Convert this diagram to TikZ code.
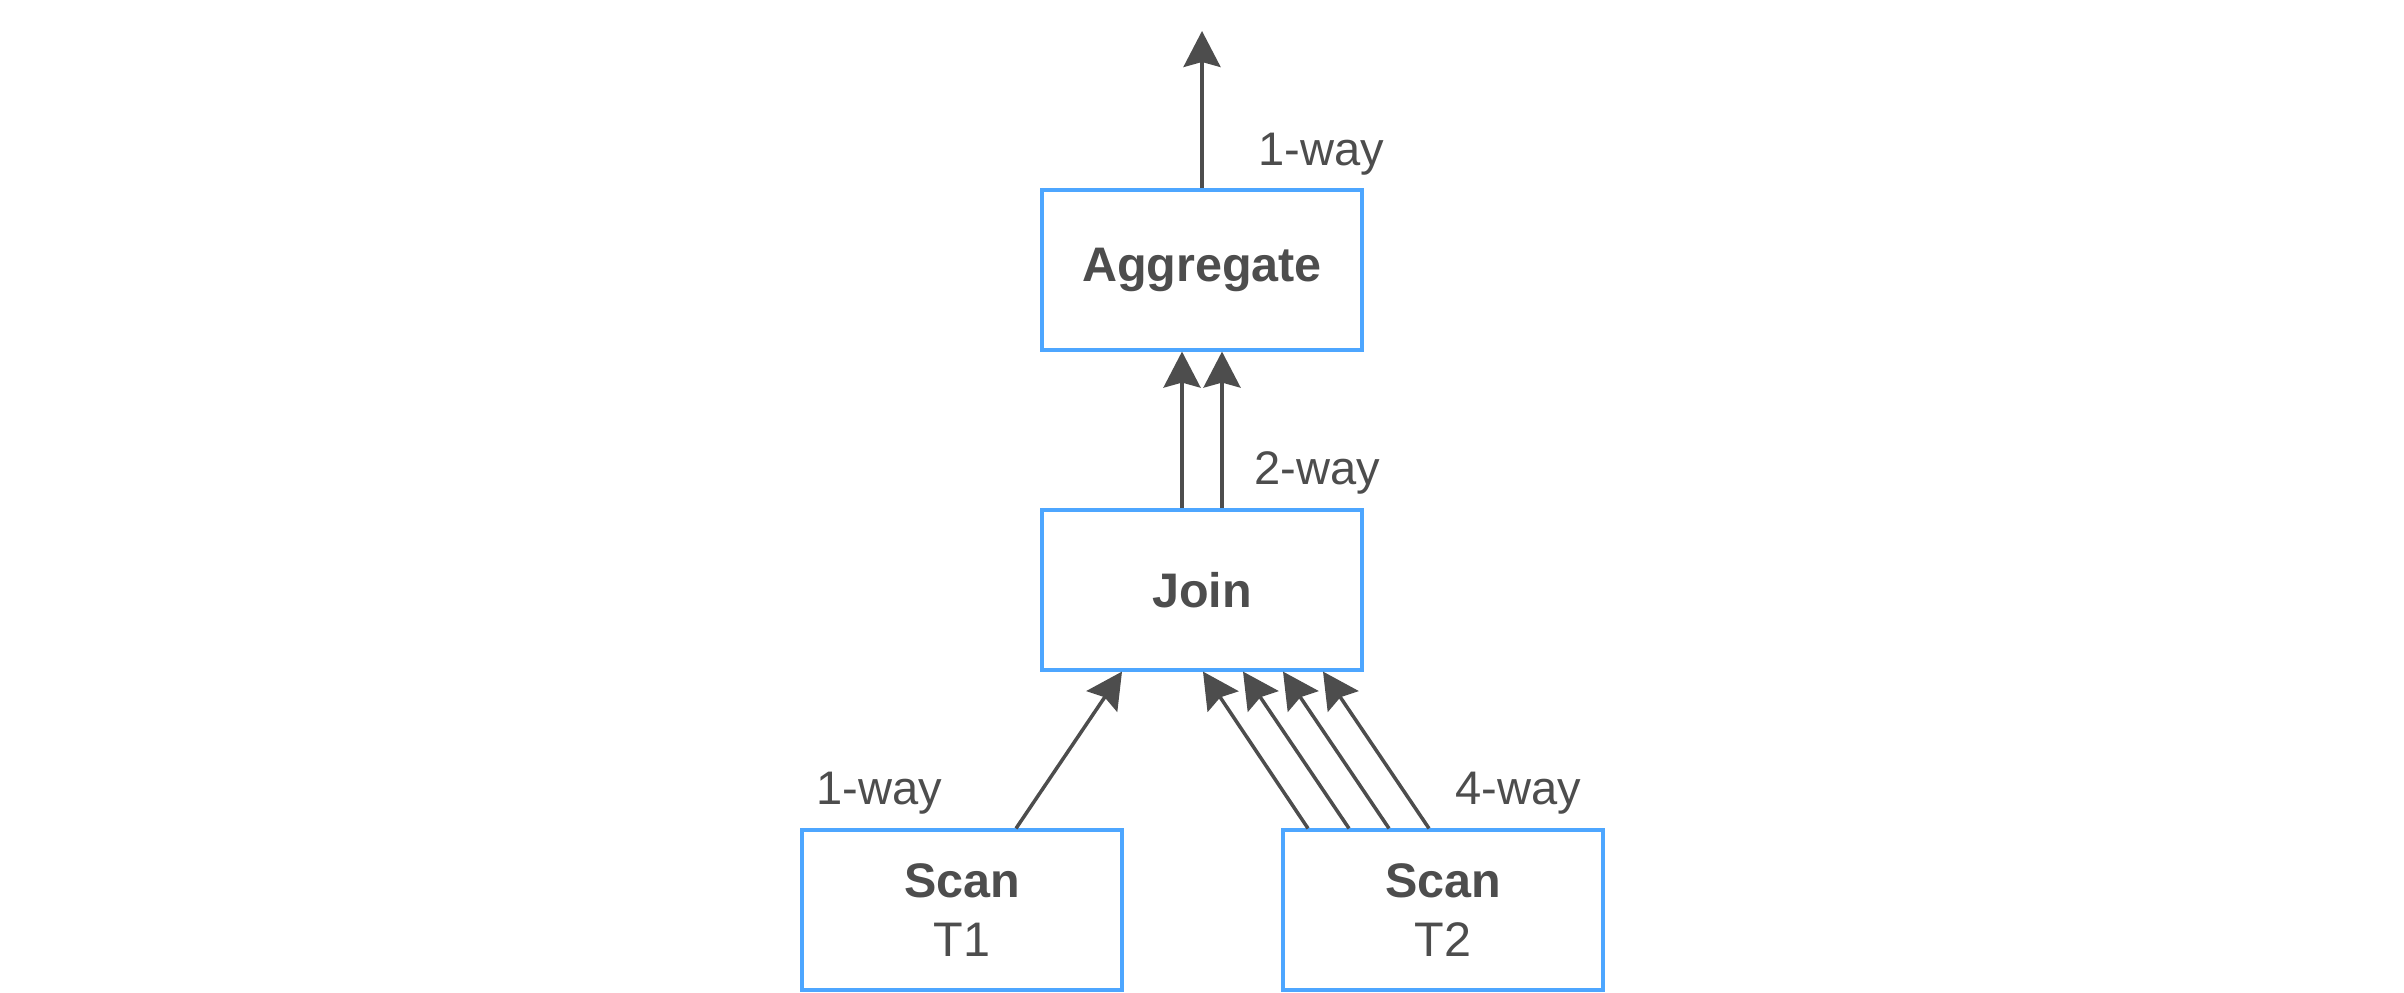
\documentclass[tikz,border=0pt]{standalone}
\usepackage{fontspec}
\setmainfont{Liberation Sans}
\usepackage{xcolor}
\definecolor{cBox}{HTML}{4DA6FF}
\definecolor{cInk}{HTML}{4D4D4D}
\usepackage{tikz}
\usetikzlibrary{positioning,arrows.meta}
\tikzset{
  node-op/.style={draw=cBox,line width=0.9pt,minimum width=3.2cm,
    minimum height=1.6cm,align=center,text=cInk,inner sep=0pt,
    font=\fontsize{13.8}{16.8}\selectfont},
  node-way/.style={text=cInk,inner sep=0pt,font=\fontsize{13.4}{16}\selectfont},
  arrow/.style={-{Stealth[length=3.6mm,width=3.7mm,inset=0.5mm]},
    line width=1pt,draw=cInk},
}

\begin{document}
\begin{tikzpicture}
  \useasboundingbox (0,0) rectangle (24.04,9.92);
  \node[node-op] (agg) at (12.02,7.22) {\textbf{Aggregate}};
  \node[node-op] (join) at (12.02,4.02) {\textbf{Join}};
  \node[node-op] (scanA) at (9.62,0.82) {\textbf{Scan}\\T1};
  \node[node-op] (scanB) at (14.43,0.82) {\textbf{Scan}\\T2};
  \coordinate (out) at (12.02,9.61);
  % parallelism labels
  \node[node-way,anchor=base west] (wayOut) at (12.58,8.27) {1-way};
  \node[node-way,anchor=base west] (wayJoin) at (12.54,5.08) {2-way};
  \node[node-way,anchor=base west] (wayA) at (8.16,1.88) {1-way};
  \node[node-way,anchor=base west] (wayB) at (14.55,1.88) {4-way};
  % streams
  \draw[arrow] (agg.north) -- (out);
  \draw[arrow] ([xshift=-0.2cm]join.north) -- ([xshift=-0.2cm]agg.south);
  \draw[arrow] ([xshift=0.2cm]join.north) -- ([xshift=0.2cm]agg.south);
  \draw[arrow] ([xshift=0.54cm]scanA.north) -- ([xshift=-0.8cm]join.south);
  \draw[arrow] ([xshift=-1.35cm]scanB.north) -- ([xshift=0.01cm]join.south);
  \draw[arrow] ([xshift=-0.94cm]scanB.north) -- ([xshift=0.41cm]join.south);
  \draw[arrow] ([xshift=-0.54cm]scanB.north) -- ([xshift=0.81cm]join.south);
  \draw[arrow] ([xshift=-0.14cm]scanB.north) -- ([xshift=1.21cm]join.south);
\end{tikzpicture}
\end{document}
